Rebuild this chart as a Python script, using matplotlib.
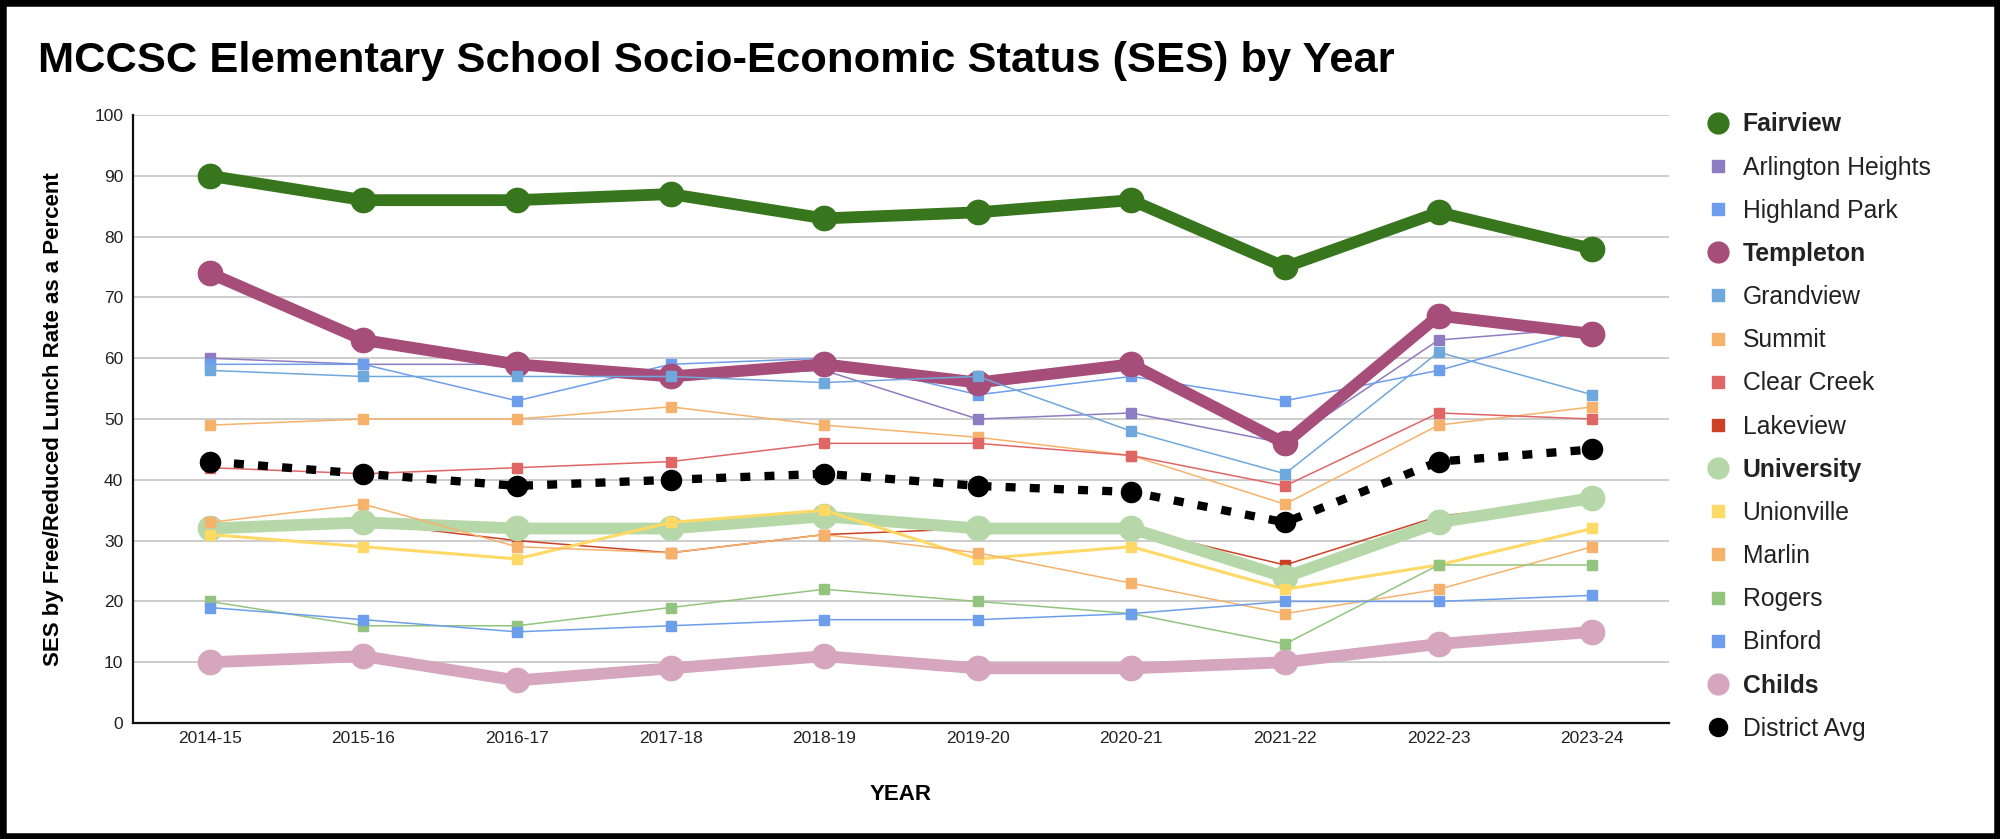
import matplotlib
matplotlib.use("Agg")
import matplotlib.pyplot as plt
from matplotlib.lines import Line2D
from matplotlib.patches import Rectangle

plt.rcParams['font.family'] = ['Liberation Sans', 'DejaVu Sans']

years = ["2014-15", "2015-16", "2016-17", "2017-18", "2018-19",
         "2019-20", "2020-21", "2021-22", "2022-23", "2023-24"]

fairview = [90, 86, 86, 87, 83, 84, 86, 75, 84, 78]
arlington_heights = [60, 59, 59, 57, 58, 50, 51, 46, 63, 65]
highland_park = [59, 59, 53, 59, 60, 54, 57, 53, 58, 65]
templeton = [74, 63, 59, 57, 59, 56, 59, 46, 67, 64]
grandview = [58, 57, 57, 57, 56, 57, 48, 41, 61, 54]
summit = [49, 50, 50, 52, 49, 47, 44, 36, 49, 52]
clear_creek = [42, 41, 42, 43, 46, 46, 44, 39, 51, 50]
lakeview = [32, 33, 30, 28, 31, 32, 32, 26, 34, 37]
university = [32, 33, 32, 32, 34, 32, 32, 24, 33, 37]
unionville = [31, 29, 27, 33, 35, 27, 29, 22, 26, 32]
marlin = [33, 36, 29, 28, 31, 28, 23, 18, 22, 29]
rogers = [20, 16, 16, 19, 22, 20, 18, 13, 26, 26]
binford = [19, 17, 15, 16, 17, 17, 18, 20, 20, 21]
childs = [10, 11, 7, 9, 11, 9, 9, 10, 13, 15]
district_avg = [43, 41, 39, 40, 41, 39, 38, 33, 43, 45]

# (name, values, color, kind)
series = [
    ("Fairview", fairview, "#38761d", "bold"),
    ("Arlington Heights", arlington_heights, "#8e7cc3", "thin"),
    ("Highland Park", highland_park, "#6d9eeb", "thin"),
    ("Templeton", templeton, "#a64d79", "bold"),
    ("Grandview", grandview, "#6fa8dc", "thin"),
    ("Summit", summit, "#f6b26b", "thin"),
    ("Clear Creek", clear_creek, "#e06666", "thin"),
    ("Lakeview", lakeview, "#cc4125", "thin"),
    ("University", university, "#b6d7a8", "bold"),
    ("Unionville", unionville, "#ffd966", "medium"),
    ("Marlin", marlin, "#f6b26b", "thin"),
    ("Rogers", rogers, "#93c47d", "thin"),
    ("Binford", binford, "#6d9eeb", "thin"),
    ("Childs", childs, "#d5a6bd", "bold"),
    ("District Avg", district_avg, "#000000", "avg"),
]

fig = plt.figure(figsize=(20, 8.39), dpi=100)
ax = fig.add_axes([0.0665, 0.1382, 0.768, 0.7247])

x = list(range(len(years)))
handles = []
for z, (name, vals, col, kind) in enumerate(series):
    if kind == "bold":
        ax.plot(x, vals, color=col, lw=8.5, marker='o', ms=17.5, zorder=3 + z,
                solid_joinstyle='round')
        handles.append(Line2D([], [], color=col, marker='o', ms=15, ls='none'))
    elif kind == "avg":
        ax.plot(x, vals, color=col, lw=6, ls=(0, (1.2, 1.7)),
                dash_capstyle='butt', marker='o', ms=14.5, zorder=3 + z)
        handles.append(Line2D([], [], color=col, marker='o', ms=13, ls='none'))
    else:
        lw = 2.2 if kind == "medium" else 1.1
        ax.plot(x, vals, color=col, lw=lw, marker='s', ms=7.5, zorder=3 + z)
        handles.append(Line2D([], [], color=col, marker='s', ms=9, ls='none'))

ax.set_xlim(-0.5, len(years) - 0.5)
ax.set_ylim(0, 100)
ax.set_yticks(range(0, 101, 10))
ax.set_xticks(x)
ax.set_xticklabels(years)
ax.tick_params(axis='both', length=0, labelsize=12.5, colors='#222222')
ax.tick_params(axis='y', pad=7)
ax.tick_params(axis='x', pad=6)
ax.grid(axis='y', color='#cccccc', lw=1.4)
ax.set_axisbelow(True)
for s in ['top', 'right']:
    ax.spines[s].set_visible(False)
for s in ['left', 'bottom']:
    ax.spines[s].set_color('#111111')
    ax.spines[s].set_linewidth(1.6)

ax.set_ylabel("SES by Free/Reduced Lunch Rate as a Percent", fontsize=16,
              fontweight='bold', labelpad=22)
ax.set_xlabel("YEAR", fontsize=16, fontweight='bold', labelpad=27)

fig.text(0.019, 0.927, "MCCSC Elementary School Socio-Economic Status (SES) by Year",
         fontsize=31.3, fontweight='bold', va='center', ha='left')

leg = ax.legend(handles, [s[0] for s in series], loc='upper left',
                bbox_to_anchor=(0.854, 0.866), bbox_transform=fig.transFigure,
                frameon=False, fontsize=17.8, handlelength=0.8,
                handletextpad=0.6, labelspacing=0.775, borderpad=0,
                borderaxespad=0)
for t, s in zip(leg.get_texts(), series):
    t.set_color('#222222')
    if s[3] == "bold":
        t.set_fontweight('bold')

fig.patches.append(Rectangle((0, 0), 1, 1, transform=fig.transFigure,
                             fill=False, edgecolor='black', lw=9, zorder=100))

fig.savefig("out.png", dpi=100)
